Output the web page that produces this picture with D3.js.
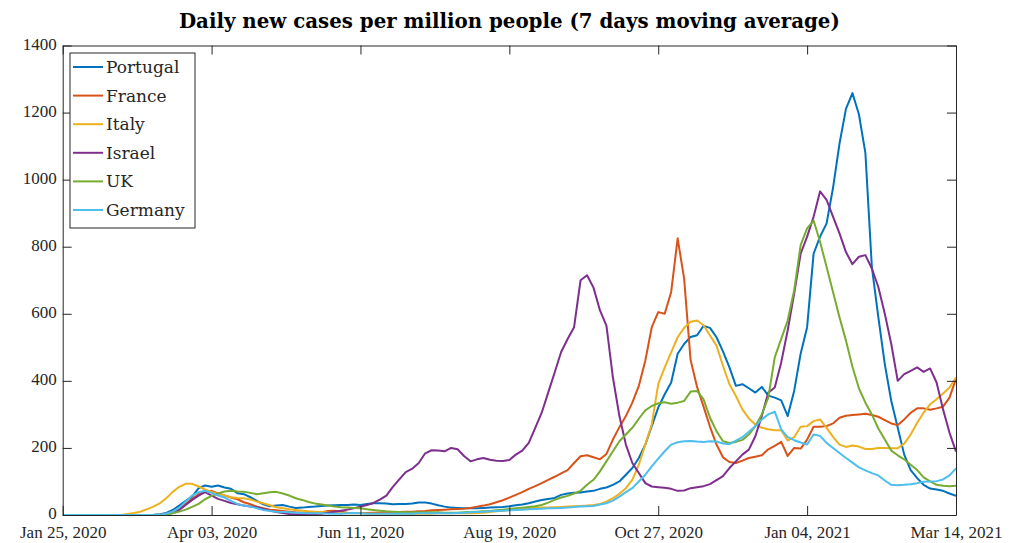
<!DOCTYPE html>
<html>
<head>
<meta charset="utf-8">
<script src="https://cdn.jsdelivr.net/npm/d3@7"></script>
<style>
  body { margin: 0; background: #fff; }
  svg { display: block; }
  text { font-family: "Liberation Serif", "Times New Roman", serif; }
</style>
</head>
<body>
<div id="chart"></div>
<script>
// Days after Jan 25, 2020 (one sample every 3 days)
const startDate = new Date(Date.UTC(2020, 0, 25));
const dayOffsets = d3.range(0, 415, 3);

const tickLabels = ["2020-01-25", "2020-04-03", "2020-06-11", "2020-08-19", "2020-10-27", "2021-01-04", "2021-03-14"];
const yTicks = [0, 200, 400, 600, 800, 1000, 1200, 1400];

const countries = ["Portugal", "France", "Italy", "Israel", "UK", "Germany"];

const portugal = [
  0, 0, 0, 0, 0, 0, 0, 0, 0, 0, 0, 0, 0,
  0, 0.5, 2, 6, 15, 28, 42, 55, 80, 88,
  84, 88, 82, 78, 65, 62, 53, 42, 32, 26,
  28, 30, 25, 21, 22, 24, 25, 27, 28, 29,
  30, 30, 31, 30, 33, 35, 35, 34, 32, 33,
  33, 34, 37, 37, 34, 29, 25, 22, 21, 20,
  20, 20, 21, 22, 23, 24, 26, 29, 31, 35,
  40, 45, 48, 51, 60, 64, 66, 67, 70, 72,
  78, 82, 90, 100, 120, 140, 170, 210, 265, 320,
  360, 395, 481, 510, 531, 536, 564, 558, 530, 488,
  440, 385, 390, 378, 365, 382, 356, 350, 342, 295,
  370, 481, 560, 779, 830, 869, 975, 1107, 1211, 1258,
  1195, 1080, 740, 590, 450, 340, 260, 180, 134, 110,
  90, 79, 76, 72, 64, 57
];

const france = [
  0, 0, 0, 0, 0, 0, 0, 0, 0, 0, 0, 0, 0, 0, 0,
  1, 4, 10, 20, 33, 48, 62, 70,
  72, 64, 58, 52, 47, 38, 32, 25, 20, 16,
  14, 12, 10, 8, 7, 6, 6, 8, 12, 13,
  10, 7, 6, 6, 6, 7, 7, 8, 8, 9,
  10, 10, 11, 12, 14, 15, 16, 17, 18, 19,
  21, 25, 28, 32, 38, 44, 52, 60, 68, 78,
  86, 95, 105, 114, 124, 134, 155, 175, 178, 172,
  166, 182, 225, 262, 295, 335, 385, 460, 560, 605,
  600, 665, 825, 705, 462, 382, 323, 263, 210, 172,
  158, 155, 162, 170, 174, 178, 196, 206, 218, 176,
  200, 198, 225, 263, 263, 265, 273, 290, 296, 298,
  300, 302, 298, 293, 283, 273, 268, 285, 305, 318,
  318, 314, 318, 323, 350, 407
];

const italy = [
  0, 0, 0, 0, 0, 0, 0, 0, 0, 0,
  3, 6, 10, 17, 25, 35, 50, 69, 84, 93,
  93, 85, 76, 69, 63, 58, 53, 51, 50, 46,
  40, 35, 29, 23, 20, 17, 15, 13, 11, 10,
  9, 8, 7, 6, 5, 5, 5, 4, 4, 4,
  4, 4, 4, 4, 4, 4, 4, 4, 5, 5,
  5, 5, 5, 5, 6, 7, 9, 11, 13, 15,
  17, 18, 20, 21, 22, 22, 23, 24, 25, 26,
  27, 28, 30, 33, 40, 50, 63, 80, 105, 150,
  210, 270, 390, 440, 485, 530, 558, 576, 580, 566,
  535, 505, 445, 390, 355, 315, 288, 270, 260, 256,
  253, 253, 222, 232, 263, 265, 280, 285, 260, 233,
  210, 203, 207, 204, 197, 197, 200, 200, 199, 199,
  213, 240, 275, 305, 330, 345, 362, 380, 410
];

const israel = [
  0, 0, 0, 0, 0, 0, 0, 0, 0, 0, 0, 0, 0, 0, 0, 0,
  2, 6, 15, 30,
  45, 58, 68, 58, 48, 42, 36, 32, 28, 25,
  23, 18, 13, 9, 6, 3, 2, 2, 2, 3,
  4, 7, 10, 13, 16, 20, 25, 30, 36, 46,
  58, 84, 106, 128, 138, 155, 184, 193, 192, 190,
  200, 196, 176, 160, 166, 170, 165, 162, 161, 164,
  180, 192, 215, 260, 305, 365, 425, 486, 525, 560,
  700, 715, 678, 610, 565, 410, 295, 210, 155, 125,
  95, 85, 83, 81, 78, 72, 73, 80, 83, 86,
  92, 104, 116, 140, 160, 180, 195, 235, 295, 365,
  380, 455, 551, 660, 779, 830, 889, 965, 940, 890,
  840, 784, 748, 770, 775, 735, 680, 600, 510, 400,
  420, 430, 440, 427, 437, 395, 315, 245, 189
];

const uk = [
  0, 0, 0, 0, 0, 0, 0, 0, 0, 0, 0, 0, 0, 0, 0, 0,
  2, 5, 10, 16,
  24, 33, 47, 57, 64, 70, 72, 70, 69, 66,
  62, 65, 68, 69, 64, 58, 50, 45, 39, 34,
  31, 28, 25, 23, 22, 21, 20, 17, 15, 13,
  11, 10, 9, 8, 8, 8, 8, 8, 8, 7,
  7, 7, 8, 9, 10, 11, 12, 14, 16, 18,
  20, 22, 24, 26, 30, 37, 45, 52, 57, 64,
  72, 90, 105, 130, 160, 190, 220, 240, 260, 287,
  312, 325, 333, 336, 332, 335, 340, 368, 370, 345,
  290, 250, 220, 215, 218, 224, 240, 265, 300, 350,
  470, 525, 580, 670, 805, 855, 878, 815, 740, 665,
  590, 520, 442, 378, 335, 300, 258, 225, 192, 178,
  166, 150, 134, 112, 100, 90, 87, 86, 87
];

const germany = [
  0, 0, 0, 0, 0, 0, 0, 0, 0, 0, 0, 0, 0, 0, 0,
  1, 4, 10, 22, 40,
  58, 68, 72, 66, 58, 52, 42, 33, 28, 25,
  20, 15, 12, 10, 9, 8, 7, 6, 5, 5,
  5, 4, 4, 4, 5, 6, 5, 4, 4, 4,
  4, 4, 4, 4, 4, 5, 5, 5, 5, 5,
  5, 6, 7, 8, 9, 10, 11, 12, 13, 14,
  15, 16, 17, 18, 19, 20, 20, 21, 22, 24,
  25, 26, 27, 31, 35, 43, 55, 68, 80, 100,
  120, 145, 168, 190, 210, 217, 220, 221, 219, 218,
  220, 219, 213, 211, 222, 232, 248, 265, 285, 300,
  308, 255, 232, 223, 216, 210, 240, 236, 215, 200,
  185, 170, 156, 142, 133, 125, 118, 103, 90, 89,
  90, 92, 95, 99, 100, 101, 106, 118, 139
];

const seriesValues = [portugal, france, italy, israel, uk, germany];
const colors = ["#0072BD", "#D95319", "#EDB120", "#7E2F8E", "#77AC30", "#4DBEEE"];

// Tamaño y área del gráfico
const width = 1018;
const height = 543;
const plot = { left: 62.7, right: 956, top: 45.5, bottom: 515 };
const axisColor = "#262626";

const svg = d3.select("#chart")
    .append("svg")
    .attr("width", width)
    .attr("height", height);

svg.append("rect")
    .attr("width", width)
    .attr("height", height)
    .attr("fill", "white");

const toDate = d => new Date(startDate.getTime() + d * 86400000);
const tickDates = tickLabels.map(s => new Date(s + "T00:00:00Z"));

// Escalas
const xScale = d3.scaleUtc()
    .domain([startDate, toDate(414)])
    .range([plot.left, plot.right]);
const yScale = d3.scaleLinear()
    .domain([0, 1400])
    .range([plot.bottom, plot.top]);

// Líneas
const line = d3.line()
    .x((v, i) => xScale(toDate(dayOffsets[i])))
    .y(v => yScale(v));

const lines = svg.append("g")
    .attr("clip-path", "url(#clip)");
svg.append("clipPath").attr("id", "clip")
    .append("rect")
    .attr("x", plot.left).attr("y", plot.top)
    .attr("width", plot.right - plot.left)
    .attr("height", plot.bottom - plot.top);

seriesValues.forEach((vals, k) => {
    lines.append("path")
        .datum(vals)
        .attr("fill", "none")
        .attr("stroke", colors[k])
        .attr("stroke-width", 2)
        .attr("stroke-linejoin", "round")
        .attr("d", line);
});

// Ejes (ticks hacia dentro, como MATLAB)
const tickFont = 17;
const fmt = d3.utcFormat("%b %d, %Y");

function styleAxis(g) {
    g.select(".domain").attr("stroke", axisColor);
    g.selectAll(".tick line").attr("stroke", axisColor);
    g.selectAll(".tick text")
        .attr("fill", axisColor)
        .style("font-size", tickFont + "px")
        .style("font-family", "'Liberation Serif', serif");
}

svg.append("g")
    .attr("transform", `translate(0,${plot.bottom})`)
    .call(d3.axisBottom(xScale).tickValues(tickDates).tickFormat(fmt)
        .tickSizeInner(-9).tickSizeOuter(0).tickPadding(8.5))
    .call(styleAxis)
    .call(g => g.selectAll(".tick text").attr("dy", "0.85em"));

svg.append("g")
    .attr("transform", `translate(0,${plot.top})`)
    .call(d3.axisTop(xScale).tickValues(tickDates).tickFormat("")
        .tickSizeInner(-9).tickSizeOuter(0))
    .call(styleAxis);

svg.append("g")
    .attr("transform", `translate(${plot.left},0)`)
    .call(d3.axisLeft(yScale).tickValues(yTicks).tickFormat(d3.format("d"))
        .tickSizeInner(-9).tickSizeOuter(0).tickPadding(6))
    .call(styleAxis)
    .call(g => g.selectAll(".tick text").attr("dy", "0.22em"));

svg.append("g")
    .attr("transform", `translate(${plot.right},0)`)
    .call(d3.axisRight(yScale).tickValues(yTicks).tickFormat("")
        .tickSizeInner(-9).tickSizeOuter(0))
    .call(styleAxis);

// Título
svg.append("text")
    .attr("x", (plot.left + plot.right) / 2)
    .attr("y", 28)
    .attr("text-anchor", "middle")
    .style("font-family", "'DejaVu Serif', serif")
    .style("font-size", "19.8px")
    .style("font-weight", "bold")
    .attr("fill", "#000")
    .text("Daily new cases per million people (7 days moving average)");

// Leyenda
const legend = svg.append("g").attr("transform", "translate(70,53)");
legend.append("rect")
    .attr("width", 125)
    .attr("height", 175)
    .attr("fill", "white")
    .attr("stroke", axisColor)
    .attr("stroke-width", 1);

countries.forEach((name, k) => {
    const yy = 14 + k * 28.6;
    legend.append("line")
        .attr("x1", 3).attr("x2", 33)
        .attr("y1", yy).attr("y2", yy)
        .attr("stroke", colors[k])
        .attr("stroke-width", 2);
    legend.append("text")
        .attr("x", 36)
        .attr("y", yy)
        .attr("dy", "0.35em")
        .attr("fill", axisColor)
        .style("font-family", "'DejaVu Serif', serif")
        .style("font-size", "17px")
        .text(name);
});
</script>
</body>
</html>
